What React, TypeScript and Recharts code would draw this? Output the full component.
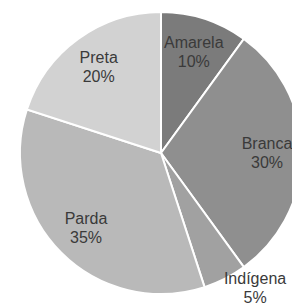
import { PieChart, Pie, Cell } from "recharts";

const categories = ["Amarela", "Branca", "Indígena", "Parda", "Preta"];
const shares = [10, 30, 5, 35, 20];
const colors = ["#7b7b7b", "#8f8f8f", "#a1a1a1", "#b9b9b9", "#d2d2d2"];

const data = categories.map((name, i) => ({ name, value: shares[i] }));

const RAD = Math.PI / 180;

function renderLabel(props: any) {
  const { cx, cy, midAngle, percent, name, value } = props;
  // small slices get their label pushed outside the pie
  const small = percent < 0.08;
  const r = small ? 164 : 106;
  const angle = small ? midAngle + 8 : midAngle;
  const x = cx + r * Math.cos(-angle * RAD);
  const y = cy + r * Math.sin(-angle * RAD);
  return (
    <text
      x={x}
      y={y - 3.75}
      textAnchor="middle"
      fill="#3a3a3a"
      fontSize={16}
      fontFamily="'Liberation Sans', Arial, sans-serif"
    >
      <tspan x={x} dy={0}>{name}</tspan>
      <tspan x={x} dy={19}>{value}%</tspan>
    </text>
  );
}

export default function App() {
  return (
    <div style={{ position: "absolute", left: 0, top: 0, background: "#fff" }}>
      <PieChart width={292} height={304} margin={{ top: 0, right: 0, bottom: 0, left: 0 }}>
        <Pie
          data={data}
          dataKey="value"
          nameKey="name"
          cx={161}
          cy={153}
          outerRadius={141}
          startAngle={90}
          endAngle={-270}
          stroke="#ffffff"
          strokeWidth={2}
          label={renderLabel}
          labelLine={false}
          isAnimationActive={false}
        >
          {data.map((d, i) => (
            <Cell key={d.name} fill={colors[i]} />
          ))}
        </Pie>
      </PieChart>
    </div>
  );
}
